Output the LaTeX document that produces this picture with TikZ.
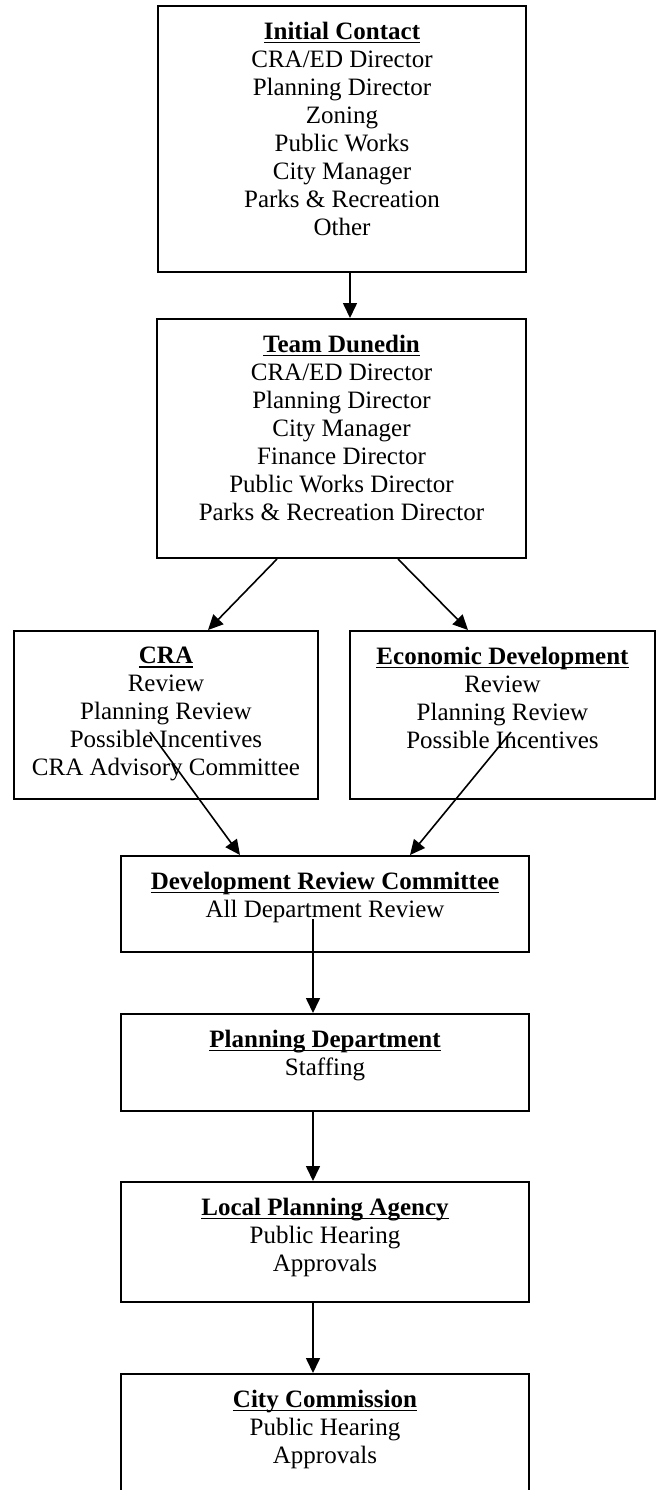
\documentclass[tikz,border=0pt]{standalone}
\usepackage{fontspec}
\setmainfont{Liberation Serif}
\usetikzlibrary{arrows.meta}
\newcommand\myul[1]{\setbox0=\hbox{#1}\rlap{\rule[-1.8pt]{\wd0}{0.7pt}}\box0}
\tikzset{
  stagebox/.style={draw=black, line width=1pt, inner sep=0pt, fill=white},
  stagetext/.style={anchor=north, inner sep=0pt, align=center,
    font=\fontsize{12.5}{14}\selectfont, yshift=-8.5pt},
  flow/.style={line width=0.8pt, -{Triangle[width=7pt,length=7.5pt]}}
}
\begin{document}
\begin{tikzpicture}[x=0.5pt, y=-0.5pt]
\useasboundingbox (0,0) rectangle (659,1490);
\clip (0,0) rectangle (659,1490);
\fill[white] (0,0) rectangle (659,1490);

% boxes
\node[stagebox, minimum width=184pt, minimum height=133pt] (ic) at (342,139) {};
\node[stagebox, minimum width=184.5pt, minimum height=119.5pt] (td) at (341.5,438.5) {};
\node[stagebox, minimum width=152pt, minimum height=84pt] (cra) at (166,715) {};
\node[stagebox, minimum width=152.5pt, minimum height=84pt] (ed) at (502.5,715) {};
\node[stagebox, minimum width=204pt, minimum height=48pt] (drc) at (325,904) {};
\node[stagebox, minimum width=204pt, minimum height=48.5pt] (pd) at (325,1062.5) {};
\node[stagebox, minimum width=204pt, minimum height=60pt] (lpa) at (325,1242) {};
\node[stagebox, minimum width=204pt, minimum height=70pt] (cc) at (325,1444) {};

% texts
\node[stagetext] (ict) at (ic.north) {\myul{\textbf{Initial Contact}}\\CRA/ED Director\\Planning Director\\Zoning\\Public Works\\City Manager\\Parks \& Recreation\\Other};
\node[stagetext] (tdt) at (td.north) {\myul{\textbf{Team Dunedin}}\\CRA/ED Director\\Planning Director\\City Manager\\Finance Director\\Public Works Director\\Parks \& Recreation Director};
\node[stagetext] (crat) at (cra.north) {\myul{\textbf{CRA}}\\Review\\Planning Review\\Possible Incentives\\CRA Advisory Committee};
\node[stagetext] (edt) at (ed.north) {\myul{\textbf{Economic Development}}\\Review\\Planning Review\\Possible Incentives};
\node[stagetext] (drct) at (drc.north) {\myul{\textbf{Development Review Committee}}\\All Department Review};
\node[stagetext] (pdt) at (pd.north) {\myul{\textbf{Planning Department}}\\Staffing};
\node[stagetext] (lpat) at (lpa.north) {\myul{\textbf{Local Planning Agency}}\\Public Hearing\\Approvals};
\node[stagetext] (cct) at (cc.north) {\myul{\textbf{City Commission}}\\Public Hearing\\Approvals};

% connectors
\draw[flow] ([xshift=4pt]ic.south) -- ([xshift=4.25pt]td.north);
\draw[flow] ([xshift=-32.25pt]td.south) -- ([xshift=21pt]cra.north);
\draw[flow] ([xshift=28.25pt]td.south) -- ([xshift=-17.25pt]ed.north);
\draw[flow] ([xshift=-8pt,yshift=-8.5pt]cra.center) -- ([xshift=-42.5pt]drc.north);
\draw[flow] ([xshift=4.25pt,yshift=-8.5pt]ed.center) -- ([xshift=42.5pt]drc.north);
\draw[flow] ([xshift=-6pt,yshift=-7.5pt]drc.center) -- ([xshift=-6pt]pd.north);
\draw[flow] ([xshift=-6pt]pd.south) -- ([xshift=-6pt]lpa.north);
\draw[flow] ([xshift=-6pt]lpa.south) -- ([xshift=-6pt]cc.north);
\end{tikzpicture}
\end{document}
